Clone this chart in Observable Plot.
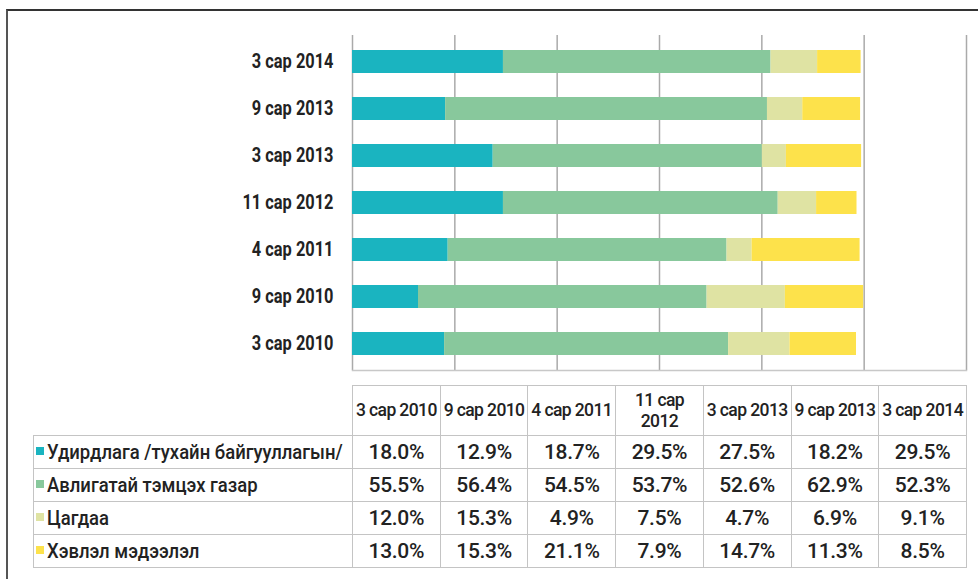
<!DOCTYPE html>
<html><head><meta charset="utf-8">
<script src="https://cdn.jsdelivr.net/npm/d3@7"></script>
<script src="https://cdn.jsdelivr.net/npm/@observablehq/plot@0.6"></script>
<style>
body{margin:0;background:#fff;}
#wrap{position:relative;width:978px;height:579px;overflow:hidden;font-family:"Roboto","Liberation Sans",sans-serif;color:#222;}
#frame{position:absolute;left:6px;top:9px;width:2000px;height:2000px;border-left:2px solid #555;border-top:2px solid #333;}
#chart{position:absolute;left:0;top:0;}
#tbl{position:absolute;left:33px;top:385px;width:933px;border-collapse:collapse;table-layout:fixed;}
#tbl td,#tbl th{border:1.5px solid #c4c4c4;padding:0;overflow:visible;}
#tbl th{height:49px;font-weight:500;font-size:17.5px;line-height:21px;letter-spacing:-0.6px;text-align:center;}
#tbl th.blank{border:none;}
#tbl td{height:32px;font-size:21px;font-weight:500;text-align:center;letter-spacing:-0.3px;}
#tbl td.lab{text-align:left;padding-left:2px;white-space:nowrap;letter-spacing:0;}
.sw{display:inline-block;width:8px;height:8px;margin-right:3px;vertical-align:middle;position:relative;top:-2px;}
.nar{display:inline-block;transform:scaleX(0.88);transform-origin:left center;}
</style></head>
<body>
<div id="wrap">
  <div id="frame"></div>
  <div id="chart"></div>
  <table id="tbl"></table>
</div>
<script>
const periods = ["3 сар 2010","9 сар 2010","4 сар 2011","11 сар 2012","3 сар 2013","9 сар 2013","3 сар 2014"];
const seriesNames = ["Удирдлага /тухайн байгууллагын/","Авлигатай тэмцэх газар","Цагдаа","Хэвлэл мэдээлэл"];
const udirdlaga = [18.0,12.9,18.7,29.5,27.5,18.2,29.5];
const avliga    = [55.5,56.4,54.5,53.7,52.6,62.9,52.3];
const tsagdaa   = [12.0,15.3,4.9,7.5,4.7,6.9,9.1];
const hevlel    = [13.0,15.3,21.1,7.9,14.7,11.3,8.5];
const colors = ["#1ab4c0","#88c89c","#dfe3a3","#fde24b"];
const xTicks = [0,20,40,60,80,100,120];

const seriesValues = [udirdlaga, avliga, tsagdaa, hevlel];
const rows = periods.flatMap((p,i)=> seriesNames.map((s,j)=>({period:p, series:s, value:seriesValues[j][i]})));

const chart = Plot.plot({
  width:978, height:375, marginLeft:352, marginRight:12, marginTop:35, marginBottom:5,
  style:{fontFamily:'"Roboto",sans-serif', fontSize:"20px", fontWeight:"bold", color:"#222", background:"transparent"},
  x:{domain:[0,120], axis:null},
  y:{domain: periods.slice().reverse(), paddingInner:0.52, paddingOuter:0.26, label:null},
  color:{domain:seriesNames, range:colors},
  marks:[
    Plot.ruleX(xTicks,{stroke:"#aaa", strokeWidth:1.5}),
    Plot.frame({anchor:"bottom", stroke:"#c8c8c8", strokeWidth:1.5}),
    Plot.barX(rows, Plot.stackX({x:"value", y:"period", fill:"series", order: seriesNames})),
    Plot.axisY({tickSize:0, tickPadding:19, label:null})
  ]
});
document.getElementById("chart").appendChild(chart);

// condense the y tick labels (narrow typeface look)
d3.select(chart).selectAll('g[aria-label="y-axis tick label"] text').each(function(){
  const t = this.getAttribute("transform");
  if (t && t.includes("translate")) {
    this.setAttribute("transform", t + " scale(0.82,1)");
  } else {
    const x = +this.getAttribute("x") || 0, y = +this.getAttribute("y") || 0;
    this.removeAttribute("x"); this.removeAttribute("y");
    this.setAttribute("transform", `translate(${x},${y}) scale(0.82,1)`);
  }
});

// table
const tbl = document.getElementById("tbl");
const colW = 614/7;
let html = '<colgroup><col style="width:319px">' + periods.map(()=>`<col style="width:${colW}px">`).join("") + '</colgroup>';
html += '<tr><th class="blank"></th>' + periods.map(p=>`<th>${p}</th>`).join("") + '</tr>';
seriesNames.forEach((s,j)=>{
  html += `<tr><td class="lab"><span class="sw" style="background:${colors[j]}"></span><span class="nar">${s}</span></td>` +
    seriesValues[j].map(v=>`<td>${v.toFixed(1)}%</td>`).join("") + '</tr>';
});
tbl.innerHTML = html;
</script>
</body></html>
